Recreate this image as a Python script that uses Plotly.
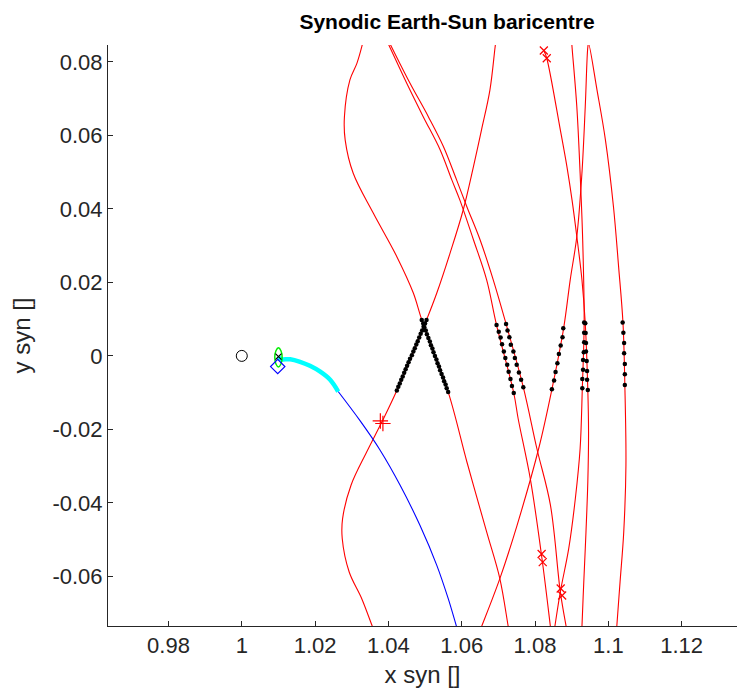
import plotly.graph_objects as go

# ---------------- data ----------------
x_ticks = [0.98, 1.0, 1.02, 1.04, 1.06, 1.08, 1.10, 1.12]
x_tick_labels = ["0.98", "1", "1.02", "1.04", "1.06", "1.08", "1.1", "1.12"]
y_ticks = [-0.06, -0.04, -0.02, 0.0, 0.02, 0.04, 0.06, 0.08]
y_tick_labels = ["-0.06", "-0.04", "-0.02", "0", "0.02", "0.04", "0.06", "0.08"]

# red trajectories
curve1_x = [1.0336, 1.0327, 1.0314, 1.0295, 1.0280, 1.0282, 1.0304, 1.0359, 1.0423, 1.0468, 1.0491, 1.0563, 1.0614, 1.0668, 1.0704, 1.0727, 1.0733]
curve1_y = [0.0880, 0.0840, 0.0796, 0.0751, 0.0651, 0.0588, 0.0497, 0.0388, 0.0270, 0.0171, 0.0098, -0.0098, -0.0288, -0.0479, -0.0606, -0.0737, -0.0770]

curve2_x = [1.0696, 1.0691, 1.0677, 1.0654, 1.0632, 1.0604, 1.0568, 1.0532, 1.0504, 1.0423, 1.0382, 1.0341, 1.0298, 1.0275, 1.0274, 1.0293, 1.0327, 1.0355, 1.0369]
curve2_y = [0.0880, 0.0840, 0.0724, 0.0615, 0.0515, 0.0397, 0.0279, 0.0171, 0.0098, -0.0094, -0.0180, -0.0261, -0.0352, -0.0443, -0.0497, -0.0588, -0.0660, -0.0733, -0.0770]

curve3_x = [1.0385, 1.0404, 1.0450, 1.0495, 1.0541, 1.0573, 1.0595, 1.0632, 1.0668, 1.0695, 1.0742, 1.0754, 1.0787, 1.0819, 1.0842, 1.0846]
curve3_y = [0.0880, 0.0840, 0.0742, 0.0651, 0.0561, 0.0479, 0.0424, 0.0316, 0.0207, 0.0084, -0.0101, -0.0171, -0.0334, -0.0552, -0.0737, -0.0770]

curve4_x = [1.0389, 1.0409, 1.0459, 1.0509, 1.0550, 1.0586, 1.0614, 1.0650, 1.0686, 1.0721, 1.0768, 1.0805, 1.0842, 1.0869, 1.0885, 1.0891]
curve4_y = [0.0880, 0.0840, 0.0742, 0.0651, 0.0570, 0.0479, 0.0406, 0.0316, 0.0207, 0.0087, -0.0085, -0.0252, -0.0406, -0.0642, -0.0737, -0.0770]

curve5_x = [1.0824, 1.0832, 1.0869, 1.0887, 1.0901, 1.0914, 1.0928, 1.0937, 1.0944, 1.0946, 1.0944, 1.0939, 1.0933, 1.0928, 1.0927]
curve5_y = [0.0831, 0.0810, 0.0615, 0.0515, 0.0424, 0.0325, 0.0207, 0.0089, -0.0093, -0.0207, -0.0343, -0.0479, -0.0615, -0.0737, -0.0770]

curve6_x = [1.0898, 1.0901, 1.0914, 1.0923, 1.0930, 1.0934, 1.0929, 1.0923, 1.0910, 1.0892, 1.0869, 1.0854, 1.0849]
curve6_y = [0.0880, 0.0840, 0.0678, 0.0497, 0.0316, 0.0091, -0.0088, -0.0252, -0.0388, -0.0524, -0.0642, -0.0737, -0.0770]

curve7_x = [1.0641, 1.0654, 1.0704, 1.0751, 1.0810, 1.0846, 1.0878, 1.0896, 1.0914, 1.0928, 1.0937, 1.0944, 1.0946, 1.0969, 1.0992, 1.1014, 1.1028, 1.1040, 1.1045, 1.1048, 1.1042, 1.1032, 1.1023, 1.1021]
curve7_y = [-0.0770, -0.0737, -0.0606, -0.0461, -0.0252, -0.0091, 0.0075, 0.0207, 0.0325, 0.0498, 0.0678, 0.0840, 0.0850, 0.0724, 0.0588, 0.0406, 0.0243, 0.0089, -0.0079, -0.0297, -0.0479, -0.0615, -0.0737, -0.0770]

# black sample dots near y = 0
dots1_x = [1.0491, 1.0495, 1.0498, 1.0502, 1.0505, 1.0509, 1.0513, 1.0516, 1.0520, 1.0523, 1.0527, 1.0531, 1.0534, 1.0538, 1.0541, 1.0545, 1.0549, 1.0552, 1.0556, 1.0559, 1.0563]
dots1_y = [0.0098, 0.0088, 0.0078, 0.0069, 0.0059, 0.0049, 0.0039, 0.0029, 0.0020, 0.0010, 0.0000, -0.0010, -0.0020, -0.0029, -0.0039, -0.0049, -0.0059, -0.0069, -0.0078, -0.0088, -0.0098]
dots2_x = [1.0504, 1.0500, 1.0496, 1.0492, 1.0488, 1.0484, 1.0480, 1.0476, 1.0472, 1.0468, 1.0464, 1.0459, 1.0455, 1.0451, 1.0447, 1.0443, 1.0439, 1.0435, 1.0431, 1.0427, 1.0423]
dots2_y = [0.0098, 0.0088, 0.0079, 0.0069, 0.0060, 0.0050, 0.0040, 0.0031, 0.0021, 0.0012, 0.0002, -0.0008, -0.0017, -0.0027, -0.0036, -0.0046, -0.0056, -0.0065, -0.0075, -0.0084, -0.0094]
dots3_x = [1.0695, 1.0701, 1.0706, 1.0710, 1.0715, 1.0719, 1.0724, 1.0728, 1.0733, 1.0737, 1.0742]
dots3_y = [0.0084, 0.0066, 0.0050, 0.0032, 0.0012, -0.0006, -0.0024, -0.0043, -0.0063, -0.0082, -0.0101]
dots4_x = [1.0721, 1.0725, 1.0730, 1.0734, 1.0741, 1.0745, 1.0750, 1.0756, 1.0762, 1.0768]
dots4_y = [0.0087, 0.0069, 0.0051, 0.0030, 0.0012, -0.0006, -0.0024, -0.0045, -0.0065, -0.0085]
dots5_x = [1.0937, 1.0938, 1.0939, 1.0939, 1.0941, 1.0942, 1.0942, 1.0944]
dots5_y = [0.0089, 0.0062, 0.0035, 0.0012, -0.0014, -0.0041, -0.0065, -0.0093]
dots6_x = [1.0934, 1.0934, 1.0934, 1.0933, 1.0931, 1.0931, 1.0929, 1.0929]
dots6_y = [0.0091, 0.0063, 0.0037, 0.0010, -0.0011, -0.0038, -0.0063, -0.0088]
dots7a_x = [1.0877, 1.0875, 1.0870, 1.0865, 1.0861, 1.0856, 1.0852, 1.0846]
dots7a_y = [0.0075, 0.0051, 0.0028, 0.0005, -0.0020, -0.0044, -0.0067, -0.0091]
dots7b_x = [1.1039, 1.1041, 1.1043, 1.1043, 1.1045, 1.1045, 1.1045]
dots7b_y = [0.0091, 0.0063, 0.0035, 0.0007, -0.0022, -0.0050, -0.0079]

# transfer trajectory (cyan part then blue part)
cyan_x = [1.0100, 1.0107, 1.0132, 1.0159, 1.0186, 1.0214, 1.0241, 1.0263]
cyan_y = [-0.0002, -0.0009, -0.0009, -0.0016, -0.0027, -0.0043, -0.0065, -0.0097]
blue_x = [1.0263, 1.0323, 1.0377, 1.0432, 1.0486, 1.0532, 1.0563, 1.0586, 1.0596]
blue_y = [-0.0097, -0.0177, -0.0256, -0.0352, -0.0461, -0.0570, -0.0660, -0.0737, -0.0770]

# small green loop around L2
green_x = [1.0110, 1.01068, 1.0100, 1.00932, 1.0090, 1.00932, 1.0100, 1.01068, 1.0110]
green_y = [-0.0004, 0.0014, 0.0022, 0.0014, -0.0004, -0.0022, -0.0030, -0.0022, -0.0004]

# single markers
earth_x, earth_y = [1.0], [0.0]
l2_x, l2_y = [1.0100], [-0.0002]
diamond_x, diamond_y = [1.0098], [-0.0029]
red_x_mark_x = [1.0824, 1.0832, 1.0818, 1.0821, 1.0870, 1.0874]
red_x_mark_y = [0.0831, 0.0810, -0.0539, -0.0561, -0.0633, -0.0652]
red_plus_x = [1.0378, 1.0385]
red_plus_y = [-0.0177, -0.0184]

# ---------------- figure ----------------
FONT = "Liberation Sans, Arial, Helvetica, sans-serif"
fig = go.Figure()

red_line = dict(color="#ff0000", width=1.1, shape="spline", smoothing=1.0)
for cx, cy in [(curve1_x, curve1_y), (curve2_x, curve2_y), (curve3_x, curve3_y),
               (curve4_x, curve4_y), (curve5_x, curve5_y), (curve6_x, curve6_y),
               (curve7_x, curve7_y)]:
    fig.add_trace(go.Scatter(x=cx, y=cy, mode="lines", line=red_line, hoverinfo="skip"))

fig.add_trace(go.Scatter(x=blue_x, y=blue_y, mode="lines",
                         line=dict(color="#0000ff", width=1.1, shape="spline", smoothing=1.0)))
fig.add_trace(go.Scatter(x=cyan_x, y=cyan_y, mode="lines",
                         line=dict(color="#00ffff", width=4.5, shape="spline", smoothing=1.0)))
fig.add_trace(go.Scatter(x=green_x, y=green_y, mode="lines",
                         line=dict(color="#00ee00", width=1.5, shape="spline", smoothing=1.0)))

for dx, dy in [(dots1_x, dots1_y), (dots2_x, dots2_y), (dots3_x, dots3_y), (dots4_x, dots4_y),
               (dots5_x, dots5_y), (dots6_x, dots6_y), (dots7a_x, dots7a_y), (dots7b_x, dots7b_y)]:
    fig.add_trace(go.Scatter(x=dx, y=dy, mode="markers",
                             marker=dict(color="#000000", size=4.5, symbol="circle")))

fig.add_trace(go.Scatter(x=earth_x, y=earth_y, mode="markers",
                         marker=dict(symbol="circle-open", size=11, color="#000000", line=dict(width=1))))
fig.add_trace(go.Scatter(x=diamond_x, y=diamond_y, mode="markers",
                         marker=dict(symbol="diamond-open", size=11, color="#0000ff", line=dict(width=1.2))))
fig.add_trace(go.Scatter(x=l2_x, y=l2_y, mode="markers",
                         marker=dict(symbol="x-thin", size=6, color="#000000", line=dict(width=1.2, color="#000000"))))
fig.add_trace(go.Scatter(x=red_x_mark_x, y=red_x_mark_y, mode="markers",
                         marker=dict(symbol="x-thin", size=8, color="#ff0000", line=dict(width=1.2, color="#ff0000"))))
fig.add_trace(go.Scatter(x=red_plus_x, y=red_plus_y, mode="markers",
                         marker=dict(symbol="cross-thin", size=11, color="#ff0000", line=dict(width=1.2, color="#ff0000"))))

axis_common = dict(
    showgrid=False, zeroline=False, showline=True, linecolor="#262626", linewidth=1,
    ticks="inside", ticklen=5, tickcolor="#262626", tickwidth=1, mirror=False,
    tickfont=dict(family=FONT, size=22, color="#262626"),
)

fig.update_layout(
    width=737, height=688,
    margin=dict(l=108, r=0, t=45, b=62),
    paper_bgcolor="white", plot_bgcolor="white",
    showlegend=False,
    title=dict(text="<b>Synodic Earth-Sun baricentre</b>", x=447 / 737, xref="container",
               xanchor="center",
               y=1 - 22 / 688, yref="container", yanchor="middle",
               font=dict(family=FONT, size=21, color="#000000")),
    xaxis=dict(range=[0.9635, 1.1351], tickvals=x_ticks, ticktext=x_tick_labels,
               title=dict(text="x syn []", font=dict(family=FONT, size=24, color="#262626"), standoff=8),
               **axis_common),
    yaxis=dict(range=[-0.0735, 0.0846], tickvals=y_ticks, ticktext=y_tick_labels,
               title=dict(text="y syn []", font=dict(family=FONT, size=24, color="#262626"), standoff=15),
               **axis_common),
)

fig.write_html("out.html")
